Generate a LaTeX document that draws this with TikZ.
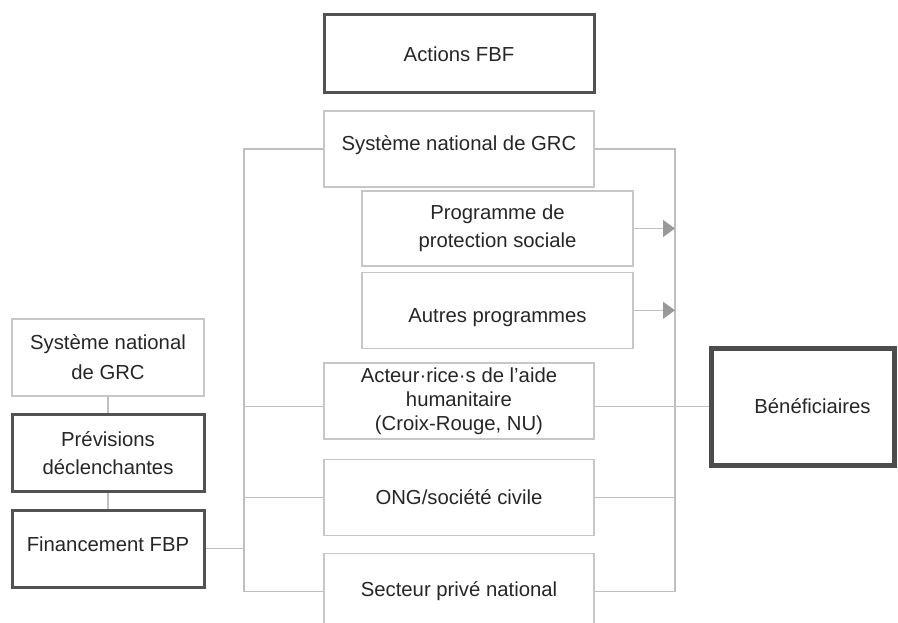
\documentclass[tikz,border=0pt]{standalone}
\usepackage{fontspec}
\setmainfont{Liberation Sans}
\usetikzlibrary{arrows.meta, positioning}

\begin{document}
\begin{tikzpicture}[x=1pt, y=-1pt,
    font=\fontsize{20.3}{28}\selectfont, text=black!85,
    org/.style={rectangle, draw=black!22, line width=1.3pt, align=center,
      minimum width=270pt, minimum height=76pt, inner sep=2pt},
    core/.style={org, draw=black!68, line width=3pt},
    goal/.style={org, draw=black!70, line width=5pt, minimum width=183pt, minimum height=117pt},
    side/.style={minimum width=192pt, minimum height=77pt},
    txt/.style={inner sep=0pt},
    ln/.style={draw=black!25, line width=1.3pt},
    ar/.style={ln, -{Triangle[length=12pt, width=17pt, color=black!40]}}]
  \useasboundingbox (0,0) rectangle (898,623);
  \coordinate (lb) at (244,0);
  \coordinate (rb) at (675,0);
  \node[core, minimum height=78pt] (act) at (459,54) {Actions FBF};
  \node[org, below=16pt of act] (natc) {};
  \node[txt, yshift=4pt] (natct) at (natc) {Système national de GRC};
  \node[org, minimum width=271pt, minimum height=75pt] (prog) at (497.5,228.5) {Programme de\\protection sociale};
  \node[org, minimum width=271pt, below=5pt of prog] (autres) {};
  \node[txt, yshift=-7pt] (autrest) at (autres) {Autres programmes};
  \node[org, font=\fontsize{20.3}{24}\selectfont] (hum) at (459,401) {Acteur·rice·s de l'aide\\humanitaire\\(Croix-Rouge, NU)};
  \node[org, below=19pt of hum] (ong) {ONG/société civile};
  \node[org, below=17pt of ong] (priv) {Secteur privé national};
  \node[org, side, font=\fontsize{20.3}{30}\selectfont] (lnat) at (108,357.5) {Système national\\de GRC};
  \node[core, side, below=16pt of lnat] (prev) {Prévisions\\déclenchantes};
  \node[core, side, below=16pt of prev] (fin) {};
  \node[txt, yshift=4pt] (fint) at (fin) {Financement FBP};
  \node[goal, xshift=-1pt] (ben) at (803.5,406.5) {};
  \node[txt, xshift=10pt] (bent) at (ben) {Bénéficiaires};
  % left bus
  \draw[ln] (natc.west) -| (lb |- priv) -- (priv.west);
  \draw[ln] (hum.west |- ben) -- (lb |- ben);
  \draw[ln] (ong.west) -- (lb |- ong);
  \draw[ln] (fin.east) -- (lb |- fin);
  \draw[ln] (lnat) -- (prev);
  \draw[ln] (prev) -- (fin);
  % right bus
  \draw[ln] (natc.east) -| (rb |- priv) -- (priv.east);
  \draw[ln] (ong.east) -- (rb |- ong);
  \draw[ln] (hum.east |- ben) -- (ben.west);
  \draw[ar] (prog.east) -- (rb |- prog);
  \draw[ar] (autres.east) -- (rb |- autres);
\end{tikzpicture}
\end{document}
